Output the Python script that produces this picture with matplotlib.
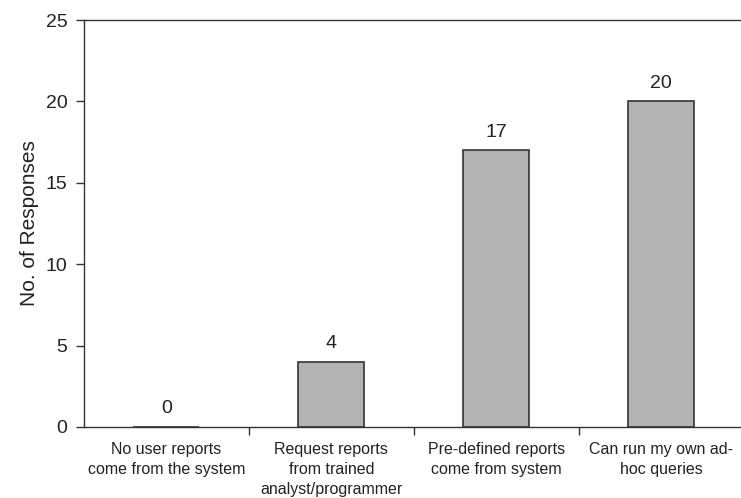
import numpy as np
import matplotlib.pyplot as plt

plt.rcParams['font.family'] = ['Liberation Sans', 'DejaVu Sans']

categories = ["No user reports\ncome from the system",
              "Request reports\nfrom trained\nanalyst/programmer",
              "Pre-defined reports\ncome from system",
              "Can run my own ad-\nhoc queries"]
responses = [0, 4, 17, 20]
yticks = [0, 5, 10, 15, 20, 25]

fig = plt.figure(figsize=(7.41, 4.98), dpi=100)
ax = fig.add_axes([0.1134, 0.1426, 0.89, 0.8172])

x = np.arange(len(categories))
bars = ax.bar(x, responses, width=0.4, color='#b1b3b5', edgecolor='#333333', linewidth=1.2, zorder=2)
for xi, v in zip(x, responses):
    ax.annotate(str(v), (xi, v), xytext=(0, 7), textcoords='offset points',
                ha='center', va='bottom', fontsize=14, color='#222222')

ax.set_xlim(-0.5, 3.5)
ax.set_ylim(0, 25)
ax.set_yticks(yticks)
ax.tick_params(axis='y', labelsize=14, length=6, width=1, pad=6, colors='#333333', labelcolor='#222222')
# category names sit between the boundary ticks
ax.set_xticks(x[:-1] + 0.5)
ax.set_xticklabels([])
ax.set_xticks(x, minor=True)
ax.set_xticklabels(categories, minor=True, fontsize=11.5, color='#222222', linespacing=1.42)
ax.tick_params(axis='x', which='major', length=6, width=1, colors='#333333')
ax.tick_params(axis='x', which='minor', length=0, pad=11)

ax.set_ylabel("No. of Responses", fontsize=15, color='#222222')
ax.yaxis.set_label_coords(-0.068, 0.5)
for s in ['left', 'bottom', 'top']:
    ax.spines[s].set_color('#333333')
    ax.spines[s].set_linewidth(1)
    ax.spines[s].set_zorder(3)
ax.spines['right'].set_visible(False)

fig.savefig("out.png", dpi=100)
